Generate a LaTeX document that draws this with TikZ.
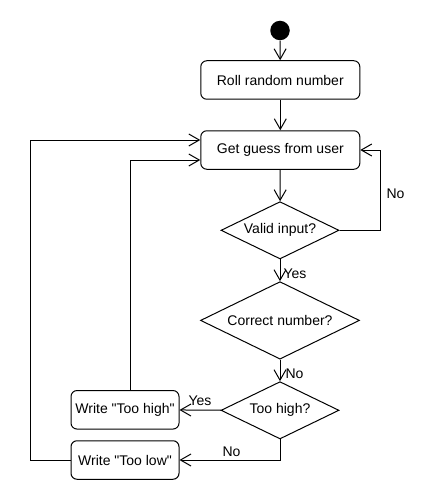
\documentclass[tikz,border=0pt]{standalone}
\usepackage{fontspec}
\newfontfamily\arialf{Liberation Sans}
\usetikzlibrary{shapes.geometric,arrows.meta}
\begin{document}
\begin{tikzpicture}[x=1pt,y=-1pt, line width=1pt,
  every node/.style={font=\arialf\fontsize{14}{16}\selectfont},
  act/.style={draw, rounded corners=6pt, minimum width=159pt, minimum height=38.5pt, inner sep=0pt},
  wbox/.style={draw, rounded corners=6pt, minimum width=108pt, minimum height=38.5pt, inner sep=0pt},
  dec/.style={draw, diamond, aspect=2.05, inner sep=0pt},
  flow/.style={-{Straight Barb[length=10.5pt,width=12pt]}},
  lbl/.style={inner sep=0pt, anchor=west}]
\useasboundingbox (0,0) rectangle (440,500);
\node[circle, fill=black, minimum size=19.5pt, inner sep=0pt] (start) at (280,30.5) {};
\node[act] (roll) at (280.3,80) {Roll random number};
\node[act] (guess) at (280.3,150) {Get guess from user};
\node[dec, minimum width=118pt, minimum height=57.3pt] (valid) at (280,230.3) {Valid input?};
\node[dec, minimum width=159pt, minimum height=77.5pt] (correct) at (280,320.4) {Correct number?};
\node[dec, minimum width=118pt, minimum height=57.3pt] (high) at (280,410.3) {Too high?};
\node[wbox] (thigh) at (125,409.8) {Write "Too high"};
\node[wbox] (tlow) at (125,460) {Write "Too low"};
\draw[flow] (start) -- (roll);
\draw[flow] (roll) -- (guess);
\draw[flow] (guess) -- (valid);
\draw[flow] (valid.east) -- ++(41,0) coordinate (vr) |- (guess.east);
\draw[flow] (valid) -- (correct);
\draw[flow] (correct) -- (high);
\draw[flow] (high) -- (thigh);
\draw[flow] (high.south) |- (tlow.east);
\draw[flow] ([xshift=5pt]thigh.north) |- ([yshift=-10pt]guess.west);
\draw[flow] (tlow.west) -- ++(-40,0) coordinate (lw) |- ([yshift=10pt]guess.west);
\node[lbl] (lno1) at (386,194) {No};
\node[lbl] (lyes1) at (283,273.5) {Yes};
\node[lbl] (lno2) at (285,374) {No};
\node[lbl] (lyes2) at (188,401) {Yes};
\node[lbl] (lno3) at (222,452) {No};
\end{tikzpicture}
\end{document}
